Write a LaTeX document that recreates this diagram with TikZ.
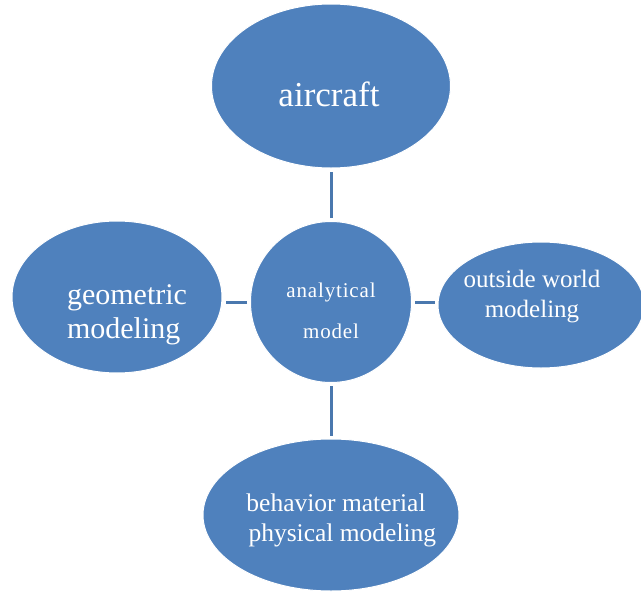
\documentclass[tikz,border=0pt]{standalone}
\usepackage{fontspec}
\setmainfont{Liberation Serif}
\usetikzlibrary{shapes.geometric}

\definecolor{blobblue}{HTML}{4F81BD}
\definecolor{linkblue}{HTML}{4A78AE}

\tikzset{
  blob/.style={ellipse, fill=blobblue, draw=white, line width=1pt, inner sep=0pt},
  txt/.style={text=white, inner sep=0pt},
  link/.style={draw=linkblue, line width=3pt, shorten <=3pt, shorten >=3pt},
}

\begin{document}
\begin{tikzpicture}[x=1pt,y=-1pt]
    \useasboundingbox (0,0) rectangle (641,592);
    % the five ovals
    \node[blob, minimum width=239, minimum height=164] (air) at (331,86) {};
    \node[blob, circle, minimum size=161] (ana) at (331,302) {};
    \node[blob, minimum width=210, minimum height=152] (geo) at (117,297) {};
    \node[blob, minimum width=206, minimum height=126] (out) at (541,305) {};
    \node[blob, minimum width=256, minimum height=152] (beh) at (331,515) {};
    % their texts
    \node[txt, font=\fontsize{35}{40}\selectfont] (air-t) at (329,94) {aircraft};
    \node[txt, align=center, font=\fontsize{21}{41}\selectfont\addfontfeature{LetterSpace=4}]
      (ana-t) at (331,311) {analytical\\model};
    \node[txt, align=left, font=\fontsize{30}{34}\selectfont] (geo-t) at (127,315)
      {geometric\\modeling};
    \node[txt, align=center, font=\fontsize{25}{30}\selectfont] (out-t) at (532,297)
      {outside world\\modeling};
    \node[txt, align=center, font=\fontsize{25.5}{30}\selectfont] (beh-t) at (336,520)
      {behavior material\\\ \ physical modeling};
    % links to the middle
    \path (ana) edge[link] (air)
    edge[link] (beh)
    (ana.west) edge[link] (ana.west -| geo.east)
    (ana.east) edge[link] (ana.east -| out.west);
  \end{tikzpicture}
\end{document}
